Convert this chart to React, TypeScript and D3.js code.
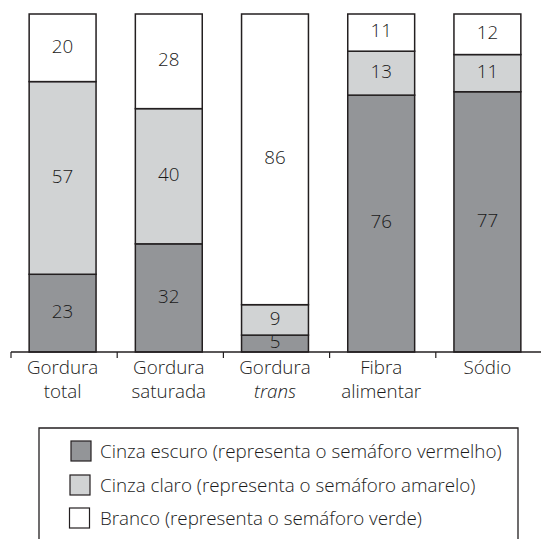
import React from "react";
import * as d3 from "d3";

const categories = ["Gordura total", "Gordura saturada", "Gordura trans", "Fibra alimentar", "Sódio"];
const labelLines: string[][] = [
  ["Gordura", "total"],
  ["Gordura", "saturada"],
  ["Gordura", "trans"],
  ["Fibra", "alimentar"],
  ["Sódio"],
];
const italicLines = ["trans"];
const darkValues = [23, 32, 5, 76, 77];
const lightValues = [57, 40, 9, 13, 11];
const whiteValues = [20, 28, 86, 11, 12];
const seriesKeys = ["dark", "light", "white"];
const legendLabels = [
  "Cinza escuro (representa o semáforo vermelho)",
  "Cinza claro (representa o semáforo amarelo)",
  "Branco (representa o semáforo verde)",
];
const colors: Record<string, string> = { dark: "#939598", light: "#d1d3d4", white: "#ffffff" };

const W = 541;
const H = 539;
const FONT = "'Open Sans', 'Noto Sans', sans-serif";
const INK = "#231f20";
const FS = 18.8;

export default function App() {
  const rows = categories.map((c, i) => ({
    cat: c,
    dark: darkValues[i],
    light: lightValues[i],
    white: whiteValues[i],
  }));
  const stacked = d3.stack<any>().keys(seriesKeys)(rows);

  const x = d3.scaleBand<string>().domain(categories).range([11, 542]).padding(0);
  const y = d3.scaleLinear().domain([0, 100]).range([352, 14]);
  const barW = x.bandwidth() * 0.63;
  const barX = (c: string) => (x(c) as number) + x.bandwidth() / 2 - 1.5 - barW / 2;

  const legendTop = 428;
  const legendRows = [451, 485, 518];

  return (
    <svg width={W} height={H} style={{ position: "absolute", left: 0, top: 0 }} fontFamily={FONT} fontWeight={300}>
      <rect x={0} y={0} width={W} height={H} fill="#fff" />
      {stacked.map((s) => (
        <g key={s.key}>
          {s.map((d, i) => {
            const c = categories[i];
            const y0 = y(d[1]);
            const y1 = y(d[0]);
            const v = d[1] - d[0];
            return (
              <g key={c}>
                <rect
                  x={barX(c)}
                  y={y0}
                  width={barW}
                  height={y1 - y0}
                  fill={colors[s.key]}
                  stroke={INK}
                  strokeWidth={1.5}
                />
                <text
                  x={barX(c) + barW / 2}
                  y={(y0 + y1) / 2 - 2}
                  dy="0.36em"
                  textAnchor="middle"
                  fontSize={FS}
                  fill="#1a1a1a"
                >
                  {v}
                </text>
              </g>
            );
          })}
        </g>
      ))}
      {/* axis */}
      <line x1={11} x2={W} y1={352} y2={352} stroke={INK} strokeWidth={1.5} />
      {categories.map((c) => (
        <line key={c} x1={x(c) as number} x2={x(c) as number} y1={352} y2={358} stroke={INK} strokeWidth={1.2} />
      ))}
      {categories.map((c, i) => (
        <text key={c} textAnchor="middle" fontSize={FS} fill="#1a1a1a">
          {labelLines[i].map((ln, j) => (
            <tspan
              key={j}
              x={barX(c) + barW / 2}
              y={367 + j * 24}
              dy="0.36em"
              fontStyle={italicLines.includes(ln) ? "italic" : "normal"}
            >
              {ln}
            </tspan>
          ))}
        </text>
      ))}
      {/* legend */}
      <path d={`M39,${H} V${legendTop} H518 V${H}`} fill="none" stroke={INK} strokeWidth={1.3} />
      {seriesKeys.map((k, i) => (
        <g key={k}>
          <rect
            x={71 - (i === 2 ? 1.5 : i === 1 ? 1 : 0)}
            y={legendRows[i] - 10}
            width={20}
            height={20}
            fill={colors[k]}
            stroke={INK}
            strokeWidth={1.2}
          />
          <text x={100} y={legendRows[i]} dy="0.36em" fontSize={FS} fill="#1a1a1a">
            {legendLabels[i]}
          </text>
        </g>
      ))}
    </svg>
  );
}
